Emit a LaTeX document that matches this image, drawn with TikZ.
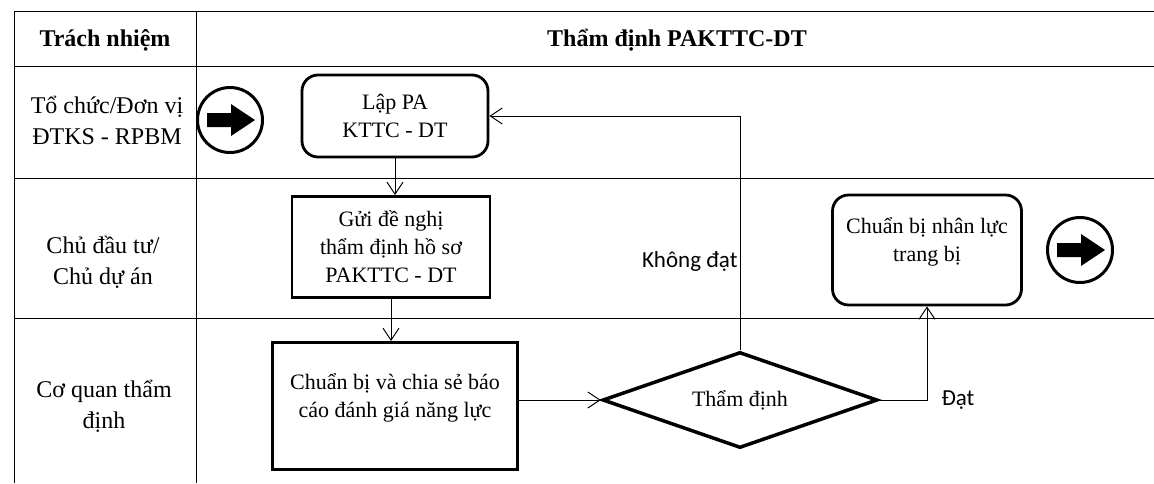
\documentclass[tikz,border=0pt]{standalone}
\usepackage{fontspec}
\setmainfont{Liberation Serif}
\newfontfamily\labelfont{Carlito}
\usetikzlibrary{shapes.geometric,arrows.meta}
\begin{document}
\begin{tikzpicture}[x=1pt,y=-1pt]
	\tikzstyle{every node}+=[inner sep=0pt]
	\tikzstyle{grid}=[black,line width=1pt]
	\tikzstyle{lane}=[align=center,font=\fontsize{24}{31}\selectfont]
	\tikzstyle{head}=[font=\fontsize{24}{31}\selectfont\bfseries]
	\tikzstyle{task}=[draw,line width=2.8pt,align=center,font=\fontsize{22}{28}\selectfont]
	\tikzstyle{endpoint}=[draw,circle,line width=3pt,minimum size=65pt]
	\tikzstyle{flow}=[black,line width=1pt,-{Straight Barb[length=12pt,width=16pt]}]
	\tikzstyle{answer}=[font=\labelfont\fontsize{23}{28}\selectfont]
	\useasboundingbox (0,0) rectangle (1154,483);
	% table
	\draw [grid] (14,11) -- (1154,11);
	\draw [grid] (14,66) -- (1154,66);
	\draw [grid] (14,178) -- (1154,178);
	\draw [grid] (14,318) -- (1154,318);
	\draw [grid] (14,11) -- (14,483);
	\draw [grid] (196,11) -- (196,483);
	\node [head] (hdrrole) at (105,40) {Trách nhiệm};
	\node [head] (hdrflow) at (677,40) {Thẩm định PAKTTC-DT};
	\node [lane] (laneunit) at (107,120) {Tổ chức/Đơn vị\\ĐTKS - RPBM};
	\node [lane] (laneowner) at (103,262) {Chủ đầu tư/\\Chủ dự án};
	\node [lane] (laneagency) at (104,406) {Cơ quan thẩm\\định};
	% steps
	\node [endpoint] (start) at (230,120) {};
	\fill [shift={(start.center)}] (-23,-7) -- (1,-7) -- (1,-16) -- (25,0) -- (1,16) -- (1,7) -- (-23,7) -- cycle;
	\node [task,rounded corners=16pt,minimum width=186pt,minimum height=82pt] (lappa) at (395,116) {Lập PA\\KTTC - DT};
	\node [task,minimum width=198pt,minimum height=101pt] (guidn) at (391,247) {Gửi đề nghị\\thẩm định hồ sơ\\PAKTTC - DT};
	\node [task,minimum width=245pt,minimum height=127pt] (baocao) at (395,406) {Chuẩn bị và chia sẻ báo\\cáo đánh giá năng lực\\[-8pt]\mbox{}};
	\node [task,diamond,aspect=2.86,line width=3.5pt,minimum width=275pt,minimum height=96pt] (thamdinh) at (740,400) {Thẩm định};
	\node [task,rounded corners=16pt,minimum width=189pt,minimum height=110pt] (nhanluc) at (927,250) {Chuẩn bị nhân lực\\trang bị\\[-8pt]\mbox{}};
	\node [endpoint] (finish) at (1080,250) {};
	\fill [shift={(finish.center)}] (-23,-7) -- (1,-7) -- (1,-16) -- (25,0) -- (1,16) -- (1,7) -- (-23,7) -- cycle;
	% connectors
	\draw [flow] (lappa.south) -- (lappa.south |- guidn.north);
	\draw [flow] (guidn.south) -- (guidn.south |- baocao.north);
	\draw [flow] (baocao.east |- thamdinh.west) -- (thamdinh.west);
	\draw [flow] (thamdinh.north) |- (lappa.east)
		node [answer,pos=0.19,left=2pt] {Không đạt};
	\draw [flow] (thamdinh.east) -| (nhanluc.south)
		node [answer,pos=0.5,right=14pt] {Đạt};
\end{tikzpicture}
\end{document}
